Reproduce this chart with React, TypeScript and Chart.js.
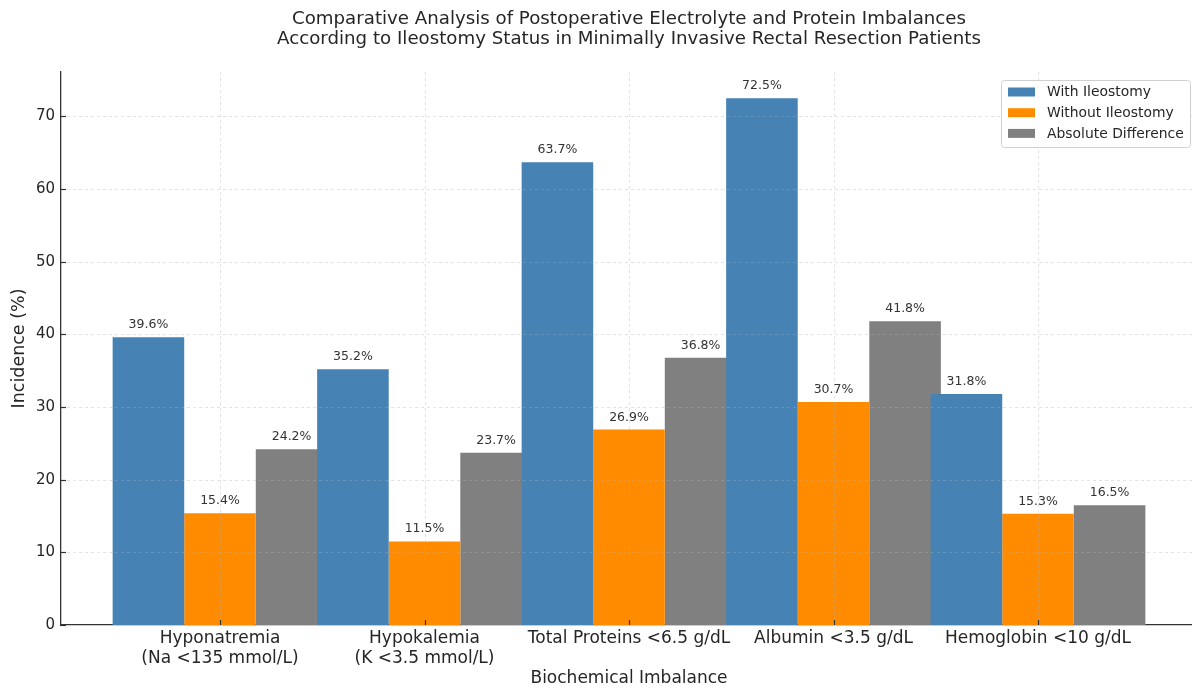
import React, { useEffect, useRef } from "react";
import { Chart, registerables } from "chart.js";

Chart.register(...registerables);

const categories: string[][] = [
  ["Hyponatremia", "(Na <135 mmol/L)"],
  ["Hypokalemia", "(K <3.5 mmol/L)"],
  ["Total Proteins <6.5 g/dL"],
  ["Albumin <3.5 g/dL"],
  ["Hemoglobin <10 g/dL"],
];
const withIleostomy = [39.6, 35.2, 63.7, 72.5, 31.8];
const withoutIleostomy = [15.4, 11.5, 26.9, 30.7, 15.3];
const absoluteDifference = [24.2, 23.7, 36.8, 41.8, 16.5];
const seriesNames = ["With Ileostomy", "Without Ileostomy", "Absolute Difference"];
const seriesColors = ["#4682B4", "#FF8C00", "#808080"];
const yTicks = [0, 10, 20, 30, 40, 50, 60, 70];
const titleLines = [
  "Comparative Analysis of Postoperative Electrolyte and Protein Imbalances",
  "According to Ileostomy Status in Minimally Invasive Rectal Resection Patients",
];
const xTitle = "Biochemical Imbalance";
const yTitle = "Incidence (%)";

const FONT = "'DejaVu Sans', sans-serif";
const TEXT = "#262626";

const overlayPlugin = {
  id: "overlay",
  afterDatasetsDraw(chart: any) {
    const { ctx, chartArea } = chart;
    const xs = chart.scales.x;
    const ys = chart.scales.y;
    ctx.save();
    // grid lines over bars
    ctx.strokeStyle = "rgba(176,176,176,0.45)";
    ctx.lineWidth = 0.8;
    ctx.setLineDash([3, 3]);
    yTicks.forEach((v) => {
      if (v === 0) return;
      const y = Math.round(ys.getPixelForValue(v)) + 0.5;
      ctx.beginPath();
      ctx.moveTo(chartArea.left, y);
      ctx.lineTo(chartArea.right, y);
      ctx.stroke();
    });
    categories.forEach((_, i) => {
      const x = Math.round(xs.getPixelForValue(i)) + 0.5;
      ctx.beginPath();
      ctx.moveTo(x, chartArea.top);
      ctx.lineTo(x, chartArea.bottom);
      ctx.stroke();
    });
    ctx.setLineDash([]);

    // inward tick marks
    ctx.strokeStyle = "#333333";
    ctx.lineWidth = 1.2;
    yTicks.forEach((v) => {
      const y = Math.round(ys.getPixelForValue(v)) + 0.5;
      ctx.beginPath();
      ctx.moveTo(chartArea.left, y);
      ctx.lineTo(chartArea.left + 5, y);
      ctx.stroke();
    });
    categories.forEach((_, i) => {
      const x = Math.round(xs.getPixelForValue(i)) + 0.5;
      ctx.beginPath();
      ctx.moveTo(x, chartArea.bottom);
      ctx.lineTo(x, chartArea.bottom - 5);
      ctx.stroke();
    });

    // value labels
    ctx.fillStyle = "#333333";
    ctx.font = `12.5px ${FONT}`;
    ctx.textAlign = "center";
    ctx.textBaseline = "bottom";
    chart.data.datasets.forEach((ds: any, di: number) => {
      const meta = chart.getDatasetMeta(di);
      meta.data.forEach((bar: any, i: number) => {
        const v = ds.data[i].y;
        ctx.fillText(v.toFixed(1) + "%", bar.x, bar.y - 6);
      });
    });

    // legend
    const lx = 1001.5, ly = 80.5, lw = 189, lh = 67;
    ctx.fillStyle = "rgba(255,255,255,0.85)";
    ctx.strokeStyle = "#d0d0d0";
    ctx.lineWidth = 1;
    ctx.beginPath();
    (ctx as any).roundRect(lx, ly, lw, lh, 3);
    ctx.fill();
    ctx.stroke();
    ctx.font = `13.9px ${FONT}`;
    ctx.textAlign = "left";
    ctx.textBaseline = "middle";
    seriesNames.forEach((name, i) => {
      const cy = 92 + i * 20.7;
      ctx.fillStyle = seriesColors[i];
      ctx.fillRect(1008, cy - 4.5, 27, 9);
      ctx.fillStyle = TEXT;
      ctx.fillText(name, 1047, cy + 0.5);
    });

    // titles
    const cx = (chartArea.left + 1197) / 2;
    ctx.fillStyle = TEXT;
    ctx.textAlign = "center";
    ctx.textBaseline = "middle";
    ctx.font = `18.2px ${FONT}`;
    ctx.fillText(titleLines[0], cx, 19);
    ctx.fillText(titleLines[1], cx, 39.5);
    ctx.font = `17px ${FONT}`;
    ctx.fillText(xTitle, cx, 679);
    ctx.save();
    ctx.translate(19, (chartArea.top + chartArea.bottom) / 2);
    ctx.rotate(-Math.PI / 2);
    ctx.font = `17.5px ${FONT}`;
    ctx.fillText(yTitle, 0, 0);
    ctx.restore();
    ctx.restore();
  },
};

export default function App() {
  const ref = useRef<HTMLCanvasElement | null>(null);
  useEffect(() => {
    document.body.style.margin = "0";
    const canvas = ref.current!;
    const mk = (arr: number[]) => arr.map((y, i) => ({ x: i, y }));
    const chart = new Chart(canvas, {
      type: "bar",
      data: {
        datasets: [
          { label: seriesNames[0], data: mk(withIleostomy), backgroundColor: seriesColors[0] },
          { label: seriesNames[1], data: mk(withoutIleostomy), backgroundColor: seriesColors[1] },
          { label: seriesNames[2], data: mk(absoluteDifference), backgroundColor: seriesColors[2] },
        ],
      },
      options: {
        animation: false,
        responsive: false,
        devicePixelRatio: 1,
        layout: { padding: { top: 72, left: 0, right: 0, bottom: 0 } },
        datasets: { bar: { categoryPercentage: 1.05, barPercentage: 1 } },
        plugins: { legend: { display: false }, title: { display: false }, tooltip: { enabled: false } },
        scales: {
          x: {
            type: "linear",
            min: -0.7775,
            max: 4.753,
            offset: false,
            afterBuildTicks(scale: any) {
              scale.ticks = categories.map((_, i) => ({ value: i }));
            },
            afterFit(scale: any) {
              scale.height = 63;
            },
            ticks: {
              autoSkip: false,
              maxRotation: 0,
              padding: 3.5,
              color: TEXT,
              font: { family: FONT, size: 17, lineHeight: 1.18 },
              callback: (v: any) => categories[Math.round(v)] ?? "",
            },
            grid: { display: false, drawOnChartArea: false, drawTicks: false, offset: false },
            border: { display: true, color: "#333333", width: 1.3 },
          },
          y: {
            min: 0,
            max: 76.125,
            afterBuildTicks(scale: any) {
              scale.ticks = yTicks.map((v) => ({ value: v }));
            },
            afterFit(scale: any) {
              scale.width = 61;
            },
            ticks: {
              padding: 6,
              color: TEXT,
              font: { family: FONT, size: 15 },
            },
            grid: { display: false, drawOnChartArea: false, drawTicks: false },
            border: { display: true, color: "#333333", width: 1.3 },
          },
        },
      },
      plugins: [overlayPlugin],
    } as any);
    return () => chart.destroy();
  }, []);
  return <canvas ref={ref} width={1192} height={688} style={{ display: "block" }} />;
}
